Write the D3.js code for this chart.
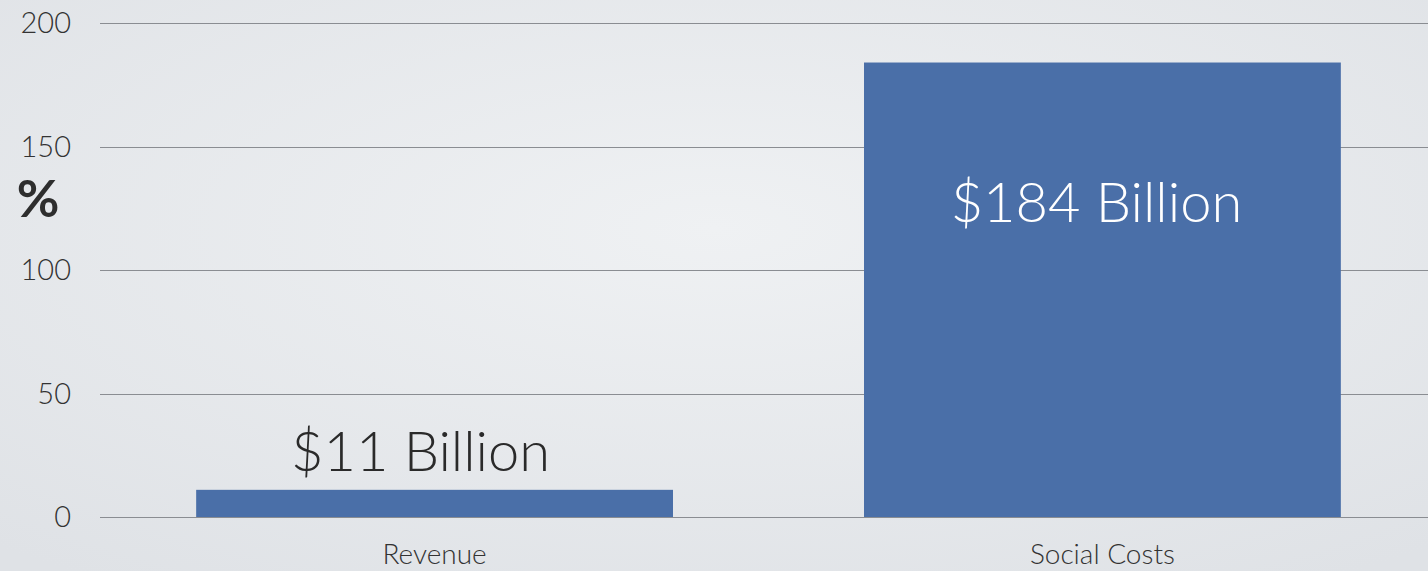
<!DOCTYPE html>
<html>
<head>
<meta charset="utf-8">
<script src="https://cdn.jsdelivr.net/npm/d3@7"></script>
<style>
  html, body { margin: 0; padding: 0; overflow: hidden; }
  svg { display: block; }
</style>
</head>
<body>
<svg id="chart" width="1428" height="571"></svg>
<script>
// chart data
var categories = ["Revenue", "Social Costs"];
var values = [11, 184];
var barLabels = ["$11 Billion", "$184 Billion"];
var yTicks = [0, 50, 100, 150, 200];

var svg = d3.select("#chart");
var W = 1428, H = 571;
var font = "Lato, 'Open Sans', sans-serif";

// soft gray background, lighter in the middle
var defs = svg.append("defs");
var grad = defs.append("radialGradient")
    .attr("id", "bg")
    .attr("cx", "50%").attr("cy", "40%").attr("r", "75%");
grad.append("stop").attr("offset", "0%").attr("stop-color", "#eff1f3");
grad.append("stop").attr("offset", "100%").attr("stop-color", "#dfe2e6");
svg.append("rect").attr("width", W).attr("height", H).attr("fill", "url(#bg)");

var x = d3.scaleBand()
    .domain(categories)
    .range([100, 1437])
    .paddingInner(0.286)
    .paddingOuter(0.144);

var y = d3.scaleLinear().domain([0, 200]).range([517, 23]);

// gridlines
svg.append("g").selectAll("line")
    .data(yTicks)
    .enter().append("line")
    .attr("x1", 100).attr("x2", W)
    .attr("y1", function(d) { return Math.round(y(d)) + 0.5; })
    .attr("y2", function(d) { return Math.round(y(d)) + 0.5; })
    .attr("stroke", "#8a8d92")
    .attr("stroke-width", 1.2);

// y tick labels
svg.append("g").selectAll("text")
    .data(yTicks)
    .enter().append("text")
    .attr("x", 71)
    .attr("y", function(d) { return y(d); })
    .attr("dy", "0.35em")
    .attr("text-anchor", "end")
    .style("font-family", font)
    .style("font-size", "29px")
    .style("font-weight", 300)
    .attr("fill", "#333333")
    .text(function(d) { return d; });

// axis title
svg.append("text")
    .attr("x", 38).attr("y", 199)
    .attr("dy", "0.35em")
    .attr("text-anchor", "middle")
    .style("font-family", font)
    .style("font-size", "52px")
    .style("font-weight", "bold")
    .attr("fill", "#2e2e2e")
    .text("%");

// bars
svg.append("g").selectAll("rect")
    .data(values)
    .enter().append("rect")
    .attr("x", function(d, i) { return x(categories[i]); })
    .attr("width", x.bandwidth())
    .attr("y", function(d) { return y(d); })
    .attr("height", function(d) { return y(0) - y(d); })
    .attr("fill", "#4a6fa8");

// value labels: above short bar, inside tall bar
svg.append("g").selectAll("text")
    .data(values)
    .enter().append("text")
    .attr("x", function(d, i) { return x(categories[i]) + x.bandwidth() / 2 - (d > 100 ? 6 : 14); })
    .attr("y", function(d) { return d > 100 ? y(d) + 159 : y(d) - 19; })
    .attr("text-anchor", "middle")
    .style("font-family", font)
    .style("font-size", "56px")
    .style("font-weight", 300)
    .attr("fill", function(d) { return d > 100 ? "#ffffff" : "#2a2a2a"; })
    .text(function(d, i) { return barLabels[i]; });

// category labels
svg.append("g").selectAll("text")
    .data(categories)
    .enter().append("text")
    .attr("x", function(d) { return x(d) + x.bandwidth() / 2; })
    .attr("y", 564)
    .attr("text-anchor", "middle")
    .style("font-family", font)
    .style("font-size", "28px")
    .style("font-weight", 300)
    .attr("fill", "#333333")
    .text(function(d) { return d; });
</script>
</body>
</html>
